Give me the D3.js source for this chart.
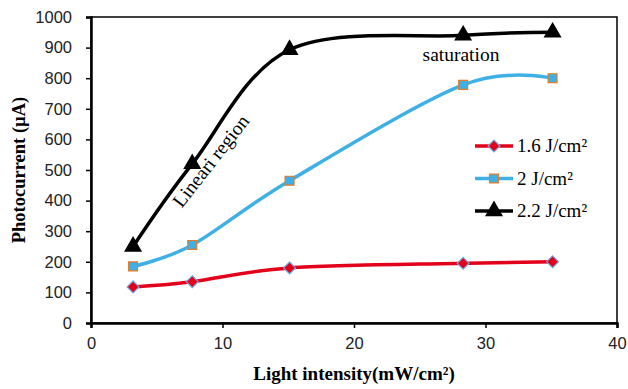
<!DOCTYPE html>
<html>
<head>
<meta charset="utf-8">
<script src="https://cdn.jsdelivr.net/npm/d3@7"></script>
<style>
  body { margin: 0; background: #fff; }
  svg { display: block; }
  .serif { font-family: 'Liberation Serif', 'Times New Roman', serif; }
</style>
</head>
<body>
<svg width="628" height="389"></svg>
<script>
// data
var intensity = [3.2, 7.7, 15.1, 28.3, 35.1];
var series16 = [118, 135, 180, 195, 200];
var series20 = [185, 255, 465, 778, 800];
var series22 = [250, 520, 893, 940, 950];
var seriesNames = ['1.6 J/cm²', '2 J/cm²', '2.2 J/cm²'];
var xTicks = [0, 10, 20, 30, 40];
var yTicks = [0, 100, 200, 300, 400, 500, 600, 700, 800, 900, 1000];

var svg = d3.select('svg');
var m = {left: 91, right: 617, top: 17, bottom: 323};

var x = d3.scaleLinear().domain([0, 40]).range([m.left, m.right]);
var y = d3.scaleLinear().domain([0, 1000]).range([m.bottom, m.top]);

// plot box
svg.append('rect')
  .attr('x', m.left).attr('y', m.top)
  .attr('width', m.right - m.left).attr('height', m.bottom - m.top)
  .attr('fill', 'none').attr('stroke', '#000').attr('stroke-width', 1.5);

// axes
var xAxis = svg.append('g')
  .attr('transform', 'translate(0,' + m.bottom + ')')
  .call(d3.axisBottom(x).tickValues(xTicks).tickFormat(d3.format('d')).tickSize(5).tickPadding(9));
var yAxis = svg.append('g')
  .attr('transform', 'translate(' + m.left + ',0)')
  .call(d3.axisLeft(y).tickValues(yTicks).tickFormat(d3.format('d')).tickSize(5).tickPadding(14));

[xAxis, yAxis].forEach(function(g) {
  g.select('.domain').attr('stroke-width', 2.5);
  g.selectAll('.tick line').attr('stroke-width', 1.5);
  g.selectAll('text')
    .style('font-family', "'Liberation Sans', Arial, sans-serif")
    .style('font-size', '16.5px')
    .attr('fill', '#222');
});

// axis titles
svg.append('text')
  .attr('class', 'serif')
  .attr('x', 354).attr('y', 380)
  .attr('text-anchor', 'middle')
  .style('font-weight', 'bold').style('font-size', '19px')
  .text('Light intensity(mW/cm²)');

svg.append('text')
  .attr('class', 'serif')
  .attr('transform', 'translate(25,170) rotate(-90)')
  .attr('text-anchor', 'middle')
  .style('font-weight', 'bold').style('font-size', '18.5px')
  .text('Photocurrent (µA)');

var line = d3.line()
  .x(function(d) { return x(d[0]); })
  .y(function(d) { return y(d[1]); })
  .curve(d3.curveCardinal.tension(0));

var series = [
  {name: seriesNames[0], values: series16, color: '#e3001b', marker: 'diamond', fill: '#e3001b', outline: '#6fa8dc'},
  {name: seriesNames[1], values: series20, color: '#3fb0e6', marker: 'square', fill: '#3fb0e6', outline: '#e87b22'},
  {name: seriesNames[2], values: series22, color: '#000', marker: 'triangle', fill: '#000', outline: '#000'}
];

function markerPath(type) {
  if (type === 'diamond') return d3.symbol(d3.symbolDiamond2, 90)();
  if (type === 'square') return d3.symbol(d3.symbolSquare, 80)();
  return d3.symbol(d3.symbolTriangle, 110)();
}

series.forEach(function(s) {
  var pts = intensity.map(function(v, i) { return [v, s.values[i]]; });
  svg.append('path')
    .datum(pts)
    .attr('d', line)
    .attr('fill', 'none')
    .attr('stroke', s.color)
    .attr('stroke-width', 3.5);
  svg.selectAll(null)
    .data(pts)
    .enter()
    .append('path')
    .attr('d', markerPath(s.marker))
    .attr('transform', function(d) { return 'translate(' + x(d[0]) + ',' + y(d[1]) + ')'; })
    .attr('fill', s.fill)
    .attr('stroke', s.outline)
    .attr('stroke-width', 1.2);
});

// legend
var legend = svg.append('g').attr('transform', 'translate(475,146)');
series.forEach(function(s, i) {
  var g = legend.append('g').attr('transform', 'translate(0,' + (i * 32.5) + ')');
  g.append('line')
    .attr('x1', 0).attr('x2', 38).attr('y1', 0).attr('y2', 0)
    .attr('stroke', s.color).attr('stroke-width', 3.5);
  g.append('path')
    .attr('d', markerPath(s.marker))
    .attr('transform', 'translate(19,0)')
    .attr('fill', s.fill).attr('stroke', s.outline).attr('stroke-width', 1.2);
  g.append('text')
    .attr('class', 'serif')
    .attr('x', 42).attr('y', 6)
    .style('font-size', '19px')
    .text(s.name);
});

// annotations
svg.append('text')
  .attr('class', 'serif')
  .attr('x', 461).attr('y', 61)
  .attr('text-anchor', 'middle')
  .style('font-size', '19.5px')
  .text('saturation');

svg.append('text')
  .attr('class', 'serif')
  .attr('transform', 'translate(216,165) rotate(-52)')
  .attr('text-anchor', 'middle')
  .style('font-size', '19.5px')
  .text('Lineari region');
</script>
</body>
</html>
